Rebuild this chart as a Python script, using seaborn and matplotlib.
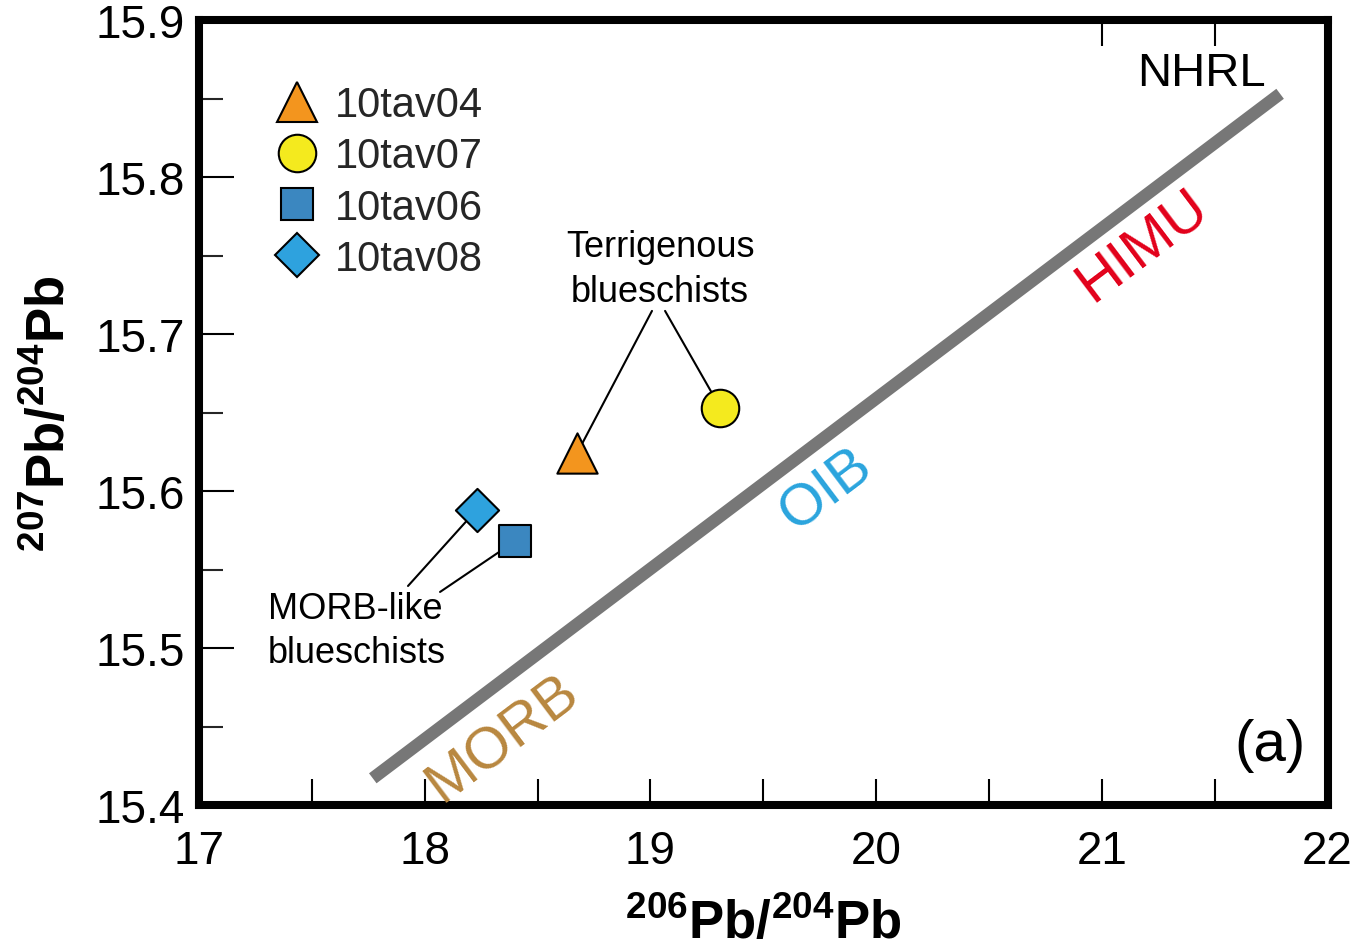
import numpy as np
import pandas as pd
import seaborn as sns
import matplotlib
matplotlib.use("Agg")
import matplotlib.pyplot as plt
from matplotlib.lines import Line2D
from matplotlib.ticker import MultipleLocator, FixedLocator, NullLocator

# ---------------- data ----------------
samples = ["10tav04", "10tav07", "10tav06", "10tav08"]
pb206 = [18.675, 19.31, 18.40, 18.23]
pb207 = [15.624, 15.653, 15.568, 15.588]
sample_markers = ["^", "o", "s", "D"]
sample_colors = ["#F3951E", "#F4EA1E", "#3B87C0", "#2EA2DE"]

nhrl_x = [17.77, 21.79]
nhrl_y = [15.417, 15.853]

xticks = [17, 18, 19, 20, 21, 22]
xticklabels = ["17", "18", "19", "20", "21", "22"]
yticks = [15.4, 15.5, 15.6, 15.7, 15.8, 15.9]
yticklabels = ["15.4", "15.5", "15.6", "15.7", "15.8", "15.9"]
top_ticks = [21, 21.5]

# ---------------- style ----------------
sns.set_theme(style="white")
plt.rcParams["font.family"] = ["Liberation Sans", "DejaVu Sans"]
plt.rcParams["mathtext.fontset"] = "custom"
plt.rcParams["mathtext.rm"] = "Liberation Sans"
plt.rcParams["mathtext.bf"] = "Liberation Sans:bold"

fig = plt.figure(figsize=(13.53, 9.53), dpi=100)
ax = fig.add_axes([199 / 1353, 1 - 806 / 953, 1128.5 / 1353, 785 / 953])

marker_sizes = [29, 27, 23, 22]
df = pd.DataFrame({"x": pb206, "y": pb207, "sample": samples})

# NHRL reference line
sns.lineplot(x=nhrl_x, y=nhrl_y, color="#777777", linewidth=9, ax=ax,
             solid_capstyle="butt", zorder=2)

# annotation leader lines (drawn before markers)
lead_kw = dict(arrowprops=dict(arrowstyle="-", color="black", lw=1.5,
                               shrinkA=0, shrinkB=0), zorder=3)
ax.annotate("", xy=(pb206[0], pb207[0]), xytext=(19.007, 15.7147), **lead_kw)
ax.annotate("", xy=(pb206[1], pb207[1]), xytext=(19.065, 15.7147), **lead_kw)
ax.annotate("", xy=(pb206[3], pb207[3]), xytext=(17.926, 15.5395), **lead_kw)
ax.annotate("", xy=(pb206[2], pb207[2]), xytext=(18.068, 15.5357), **lead_kw)

for i, s in enumerate(samples):
    sns.scatterplot(data=df[df["sample"] == s], x="x", y="y",
                    marker=sample_markers[i], s=marker_sizes[i] ** 2,
                    color=sample_colors[i], edgecolor="black", linewidth=1.5,
                    ax=ax, legend=False, zorder=5)

ax.set_xlim(17, 22)
ax.set_ylim(15.4, 15.9)

# ticks
ax.xaxis.set_major_locator(FixedLocator(xticks))
ax.set_xticklabels(xticklabels)
ax.xaxis.set_minor_locator(MultipleLocator(0.5))
ax.yaxis.set_major_locator(FixedLocator(yticks))
ax.set_yticklabels(yticklabels)
ax.yaxis.set_minor_locator(MultipleLocator(0.05))
ax.tick_params(axis="x", which="both", direction="in", length=19, width=1.5,
               top=False, bottom=True, labelsize=33, pad=17, colors="black")
ax.tick_params(axis="y", which="major", direction="in", length=25, width=1.5,
               left=True, right=False, labelsize=33, pad=10, colors="black")
ax.tick_params(axis="y", which="minor", direction="in", length=17, width=1.5,
               left=True, right=False)

sec = ax.secondary_xaxis("top")
sec.xaxis.set_major_locator(FixedLocator(top_ticks))
sec.xaxis.set_minor_locator(NullLocator())
sec.tick_params(direction="in", length=19, width=1.5, labeltop=False, colors="black")
sec.spines["top"].set_visible(False)

for sp in ax.spines.values():
    sp.set_linewidth(5.8)
    sp.set_color("black")
    sp.set_visible(True)

ax.set_xlabel(r"$\mathbf{^{206}Pb/^{204}Pb}$", fontsize=38, labelpad=18, color="black")
ax.set_ylabel(r"$\mathbf{^{207}Pb/^{204}Pb}$", fontsize=38, labelpad=14, color="black")

# texts
ax.text(21.44, 15.866, "NHRL", fontsize=34, ha="center", va="center", color="black")
ax.text(21.18, 15.757, "HIMU", fontsize=42, ha="center", va="center",
        rotation=37, color="#E2001A", rotation_mode="anchor")
ax.text(19.78, 15.601, "OIB", fontsize=42, ha="center", va="center",
        rotation=37, color="#2AA4DD", rotation_mode="anchor")
ax.text(18.347, 15.443, "MORB", fontsize=42, ha="center", va="center",
        rotation=37, color="#B8873F", rotation_mode="anchor")
ax.text(21.745, 15.438, "(a)", fontsize=42, ha="center", va="center", color="black")
ax.text(19.043, 15.7414, "Terrigenous\nblueschists", fontsize=26, ha="center",
        va="center", multialignment="center", linespacing=1.35, color="black")
ax.text(17.306, 15.511, "MORB-like\nblueschists", fontsize=26, ha="left",
        va="center", multialignment="left", linespacing=1.35, color="black")

# legend
handles = [Line2D([], [], marker=m, linestyle="none", markersize=sz,
                  markerfacecolor=c, markeredgecolor="black", markeredgewidth=1.5)
           for m, c, sz in zip(sample_markers, sample_colors, marker_sizes)]
ax.legend(handles, samples, loc="upper left", bbox_to_anchor=(0.0647, 0.917),
          frameon=False, fontsize=30, borderpad=0, handlelength=1.2,
          handletextpad=0.3, labelspacing=0.27, borderaxespad=0)

fig.savefig("out.png", dpi=100)
